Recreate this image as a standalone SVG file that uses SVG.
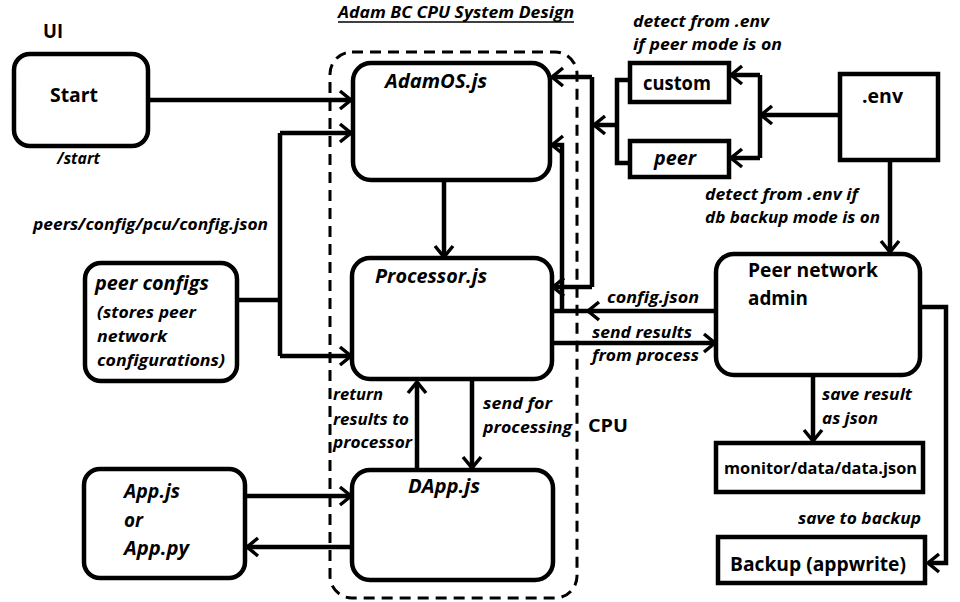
<svg xmlns="http://www.w3.org/2000/svg" width="960" height="602" viewBox="0 0 960 602">
<defs>
<style>
text{font-family:"Open Sans","Liberation Sans",sans-serif;font-weight:700;font-style:italic;fill:#000}
.n{font-size:19px}
.l{font-size:16px}
.u{font-style:normal}
.box{fill:#fff;stroke:#000;stroke-width:4.5}
.c{fill:none;stroke:#000;stroke-width:4.5;stroke-linejoin:miter}
.cpu{fill:none;stroke:#000;stroke-width:3;stroke-dasharray:11 7}
</style>
<marker id="a" viewBox="0 0 12 18" refX="11" refY="9" markerWidth="12" markerHeight="18" markerUnits="userSpaceOnUse" orient="auto" overflow="visible">
<path d="M0,0 L11,9 L0,18" fill="none" stroke="#000" stroke-width="3.5"/>
</marker>
</defs>
<rect width="960" height="602" fill="#fff"/>

<g id="title">
<text class="l" x="338" y="18" textLength="236" lengthAdjust="spacingAndGlyphs">Adam BC CPU System Design</text>
<line x1="338" y1="22" x2="574" y2="22" stroke="#000" stroke-width="1.5"/>
</g>

<g id="cpu">
<rect class="cpu" x="330" y="52" width="247" height="546" rx="22"/>
<text class="u" x="588" y="432" font-size="18" textLength="40" lengthAdjust="spacingAndGlyphs">CPU</text>
</g>

<g id="connectors">
<path class="c" d="M150,100 H351" marker-end="url(#a)"/>
<path class="c" d="M237,300 H280"/>
<path class="c" d="M280,133 V356"/>
<path class="c" d="M280,133 H351" marker-end="url(#a)"/>
<path class="c" d="M280,356 H351" marker-end="url(#a)"/>
<path class="c" d="M444,180 V257" marker-end="url(#a)"/>
<path class="c" d="M838,115 H761" marker-end="url(#a)"/>
<path class="c" d="M760,75 V158"/>
<path class="c" d="M760,75 H731" marker-end="url(#a)"/>
<path class="c" d="M760,158 H731" marker-end="url(#a)"/>
<path class="c" d="M630,80 H617 V163 H630"/>
<path class="c" d="M617,125 H594" marker-end="url(#a)"/>
<path class="c" d="M592,77 V287"/>
<path class="c" d="M592,77 H552" marker-end="url(#a)"/>
<path class="c" d="M592,287 H553" marker-end="url(#a)"/>
<path class="c" d="M716,311 H588" marker-end="url(#a)"/>
<path class="c" d="M590,311 H552"/>
<path class="c" d="M562,311 V145 H552" marker-end="url(#a)"/>
<path class="c" d="M552,343 H715" marker-end="url(#a)"/>
<path class="c" d="M890,160 V252" marker-end="url(#a)"/>
<path class="c" d="M813,375 V441" marker-end="url(#a)"/>
<path class="c" d="M920,307 H946 V563 H928" marker-end="url(#a)"/>
<path class="c" d="M417,470 V382" marker-end="url(#a)"/>
<path class="c" d="M472,380 V468" marker-end="url(#a)"/>
<path class="c" d="M245,496 H351" marker-end="url(#a)"/>
<path class="c" d="M352,547 H247" marker-end="url(#a)"/>
</g>

<g id="ui">
<text class="u" x="43" y="38" font-size="20" textLength="20" lengthAdjust="spacingAndGlyphs">UI</text>
</g>

<g id="start">
<rect class="box" x="14" y="54" width="134" height="92" rx="16"/>
<text class="n u" x="50" y="102" font-size="20" textLength="48" lengthAdjust="spacingAndGlyphs">Start</text>
<text class="l" x="57" y="164" textLength="43" lengthAdjust="spacingAndGlyphs">/start</text>
</g>

<text class="l" x="33" y="230" textLength="235" lengthAdjust="spacingAndGlyphs">peers/config/pcu/config.json</text>

<g id="peerconfigs">
<rect class="box" x="85" y="263" width="152" height="118" rx="16"/>
<text class="n" x="95" y="290" textLength="114" lengthAdjust="spacingAndGlyphs">peer configs</text>
<text class="l" x="97" y="318" textLength="99" lengthAdjust="spacingAndGlyphs">(stores peer</text>
<text class="l" x="97" y="342" textLength="70" lengthAdjust="spacingAndGlyphs">network</text>
<text class="l" x="97" y="366" textLength="128" lengthAdjust="spacingAndGlyphs">configurations)</text>
</g>

<g id="app">
<rect class="box" x="84" y="469" width="161" height="109" rx="16"/>
<text class="n" x="124" y="498" textLength="56" lengthAdjust="spacingAndGlyphs">App.js</text>
<text class="n" x="124" y="527" textLength="19" lengthAdjust="spacingAndGlyphs">or</text>
<text class="n" x="124" y="555" textLength="65" lengthAdjust="spacingAndGlyphs">App.py</text>
</g>

<g id="adamos">
<rect class="box" x="353" y="63" width="197" height="117" rx="18"/>
<text class="n" x="385" y="88" textLength="102" lengthAdjust="spacingAndGlyphs">AdamOS.js</text>
</g>

<g id="processor">
<rect class="box" x="352" y="258" width="200" height="121" rx="18"/>
<text class="n" x="375" y="283" textLength="112" lengthAdjust="spacingAndGlyphs">Processor.js</text>
</g>

<g id="dapp">
<rect class="box" x="352" y="470" width="201" height="110" rx="18"/>
<text class="n" x="408" y="493" textLength="72" lengthAdjust="spacingAndGlyphs">DApp.js</text>
</g>

<g id="labels-cpu">
<text class="l" x="333" y="400" textLength="50" lengthAdjust="spacingAndGlyphs">return</text>
<text class="l" x="333" y="425" textLength="76" lengthAdjust="spacingAndGlyphs">results to</text>
<text class="l" x="333" y="448" textLength="79" lengthAdjust="spacingAndGlyphs">processor</text>
<text class="l" x="483" y="409" textLength="69" lengthAdjust="spacingAndGlyphs">send for</text>
<text class="l" x="483" y="433" textLength="89" lengthAdjust="spacingAndGlyphs">processing</text>
</g>

<g id="detect-peer">
<text class="l" x="633" y="27" textLength="136" lengthAdjust="spacingAndGlyphs">detect from .env</text>
<text class="l" x="633" y="50" textLength="149" lengthAdjust="spacingAndGlyphs">if peer mode is on</text>
</g>

<g id="custom">
<rect class="box" x="630" y="63" width="99" height="39"/>
<text class="n u" x="643" y="90" textLength="68" lengthAdjust="spacingAndGlyphs">custom</text>
</g>

<g id="peer">
<rect class="box" x="630" y="141" width="99" height="36"/>
<text class="n" x="654" y="165" textLength="42" lengthAdjust="spacingAndGlyphs">peer</text>
</g>

<g id="env">
<rect class="box" x="840" y="74" width="98" height="86"/>
<text class="n u" x="862" y="103" textLength="41" lengthAdjust="spacingAndGlyphs">.env</text>
</g>

<g id="detect-db">
<text class="l" x="705" y="200" textLength="153" lengthAdjust="spacingAndGlyphs">detect from .env if</text>
<text class="l" x="705" y="223" textLength="175" lengthAdjust="spacingAndGlyphs">db backup mode is on</text>
</g>

<g id="admin">
<rect class="box" x="716" y="254" width="204" height="121" rx="18"/>
<text class="n u" x="748" y="277" textLength="130" lengthAdjust="spacingAndGlyphs">Peer network</text>
<text class="n u" x="748" y="305" textLength="60" lengthAdjust="spacingAndGlyphs">admin</text>
</g>

<g id="labels-right">
<text class="l" x="607" y="303" textLength="92" lengthAdjust="spacingAndGlyphs">config.json</text>
<text class="l" x="592" y="338" textLength="100" lengthAdjust="spacingAndGlyphs">send results</text>
<text class="l" x="592" y="361" textLength="107" lengthAdjust="spacingAndGlyphs">from process</text>
<text class="l" x="822" y="400" textLength="90" lengthAdjust="spacingAndGlyphs">save result</text>
<text class="l" x="822" y="424" textLength="56" lengthAdjust="spacingAndGlyphs">as json</text>
<text class="l" x="798" y="524" textLength="123" lengthAdjust="spacingAndGlyphs">save to backup</text>
</g>

<g id="monitor">
<rect class="box" x="716" y="443" width="207" height="49"/>
<text class="l u" x="724" y="474" textLength="193" lengthAdjust="spacingAndGlyphs">monitor/data/data.json</text>
</g>

<g id="backup">
<rect class="box" x="718" y="537" width="207" height="46"/>
<text class="n u" x="730" y="571" font-size="20" textLength="176" lengthAdjust="spacingAndGlyphs">Backup (appwrite)</text>
</g>
</svg>
